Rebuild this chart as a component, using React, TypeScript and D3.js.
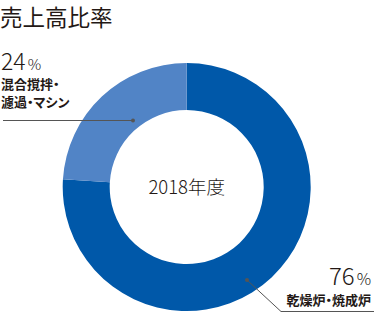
import React from "react";
import * as d3 from "d3";

const categories = ["乾燥炉・焼成炉", "混合撹拌・濾過・マシン"];
const shares = [76, 24];
const colors = ["#0058a9", "#5184c6"];
const title = "売上高比率";
const centerLabel = "2018年度";

const W = 374;
const H = 313;
const FONT = "'Noto Sans CJK JP', 'Noto Sans', sans-serif";

export default function App() {
  const cx = 186.7;
  const cy = 187;
  const outerR = 124;
  const innerR = 77;
  const pie = d3.pie<number>().sort(null).value((d) => d);
  const arcs = pie(shares);
  const arc = d3.arc<d3.PieArcDatum<number>>().innerRadius(innerR).outerRadius(outerR);
  const textColor = "#231815";
  const labelStyle: React.CSSProperties = { fontFeatureSettings: '"palt"' };
  return (
    <div style={{ position: "absolute", left: 0, top: 0 }}>
      <svg width={W} height={H} style={{ display: "block" }}>
        <rect width={W} height={H} fill="#fff" />
        <text x={0} y={26} fontFamily={FONT} fontSize={22.5} fill={textColor} fontWeight={400}>
          {title}
        </text>
        <g transform={`translate(${cx},${cy})`}>
          {arcs.map((a, i) => (
            <path key={i} d={arc(a) || ""} fill={colors[i]} />
          ))}
        </g>
        <text x={cx} y={194} textAnchor="middle" fontFamily={FONT} fontSize={18.5} fontWeight={300} fill={textColor}>
          {centerLabel}
        </text>
        {/* 24% label */}
        <text x={1} y={70} fontFamily={FONT} fill={textColor} fontWeight={300}>
          <tspan fontSize={23}>{shares[1]}</tspan>
          <tspan fontSize={15} dx={2}>%</tspan>
        </text>
        <text x={1} y={89} fontFamily={FONT} fontSize={13} fontWeight={700} fill={textColor} style={labelStyle}>
          混合撹拌・
        </text>
        <text x={1} y={107} fontFamily={FONT} fontSize={13} fontWeight={700} fill={textColor} style={labelStyle}>
          濾過・マシン
        </text>
        <line x1={3} y1={120.5} x2={133} y2={120.5} stroke="#555" strokeWidth={1} />
        <circle cx={133} cy={120.5} r={2} fill="#555" />
        {/* 76% label */}
        <text x={371} y={285} textAnchor="end" fontFamily={FONT} fill={textColor} fontWeight={300}>
          <tspan fontSize={24}>{shares[0]}</tspan>
          <tspan fontSize={16} dx={2}>%</tspan>
        </text>
        <text x={371} y={305} textAnchor="end" fontFamily={FONT} fontSize={13} fontWeight={700} fill={textColor} style={labelStyle}>
          {categories[0]}
        </text>
        <polyline points="247,280 281,311.5 374,311.5" fill="none" stroke="#555" strokeWidth={1} />
        <circle cx={247} cy={280} r={2} fill="#555" />
      </svg>
    </div>
  );
}
